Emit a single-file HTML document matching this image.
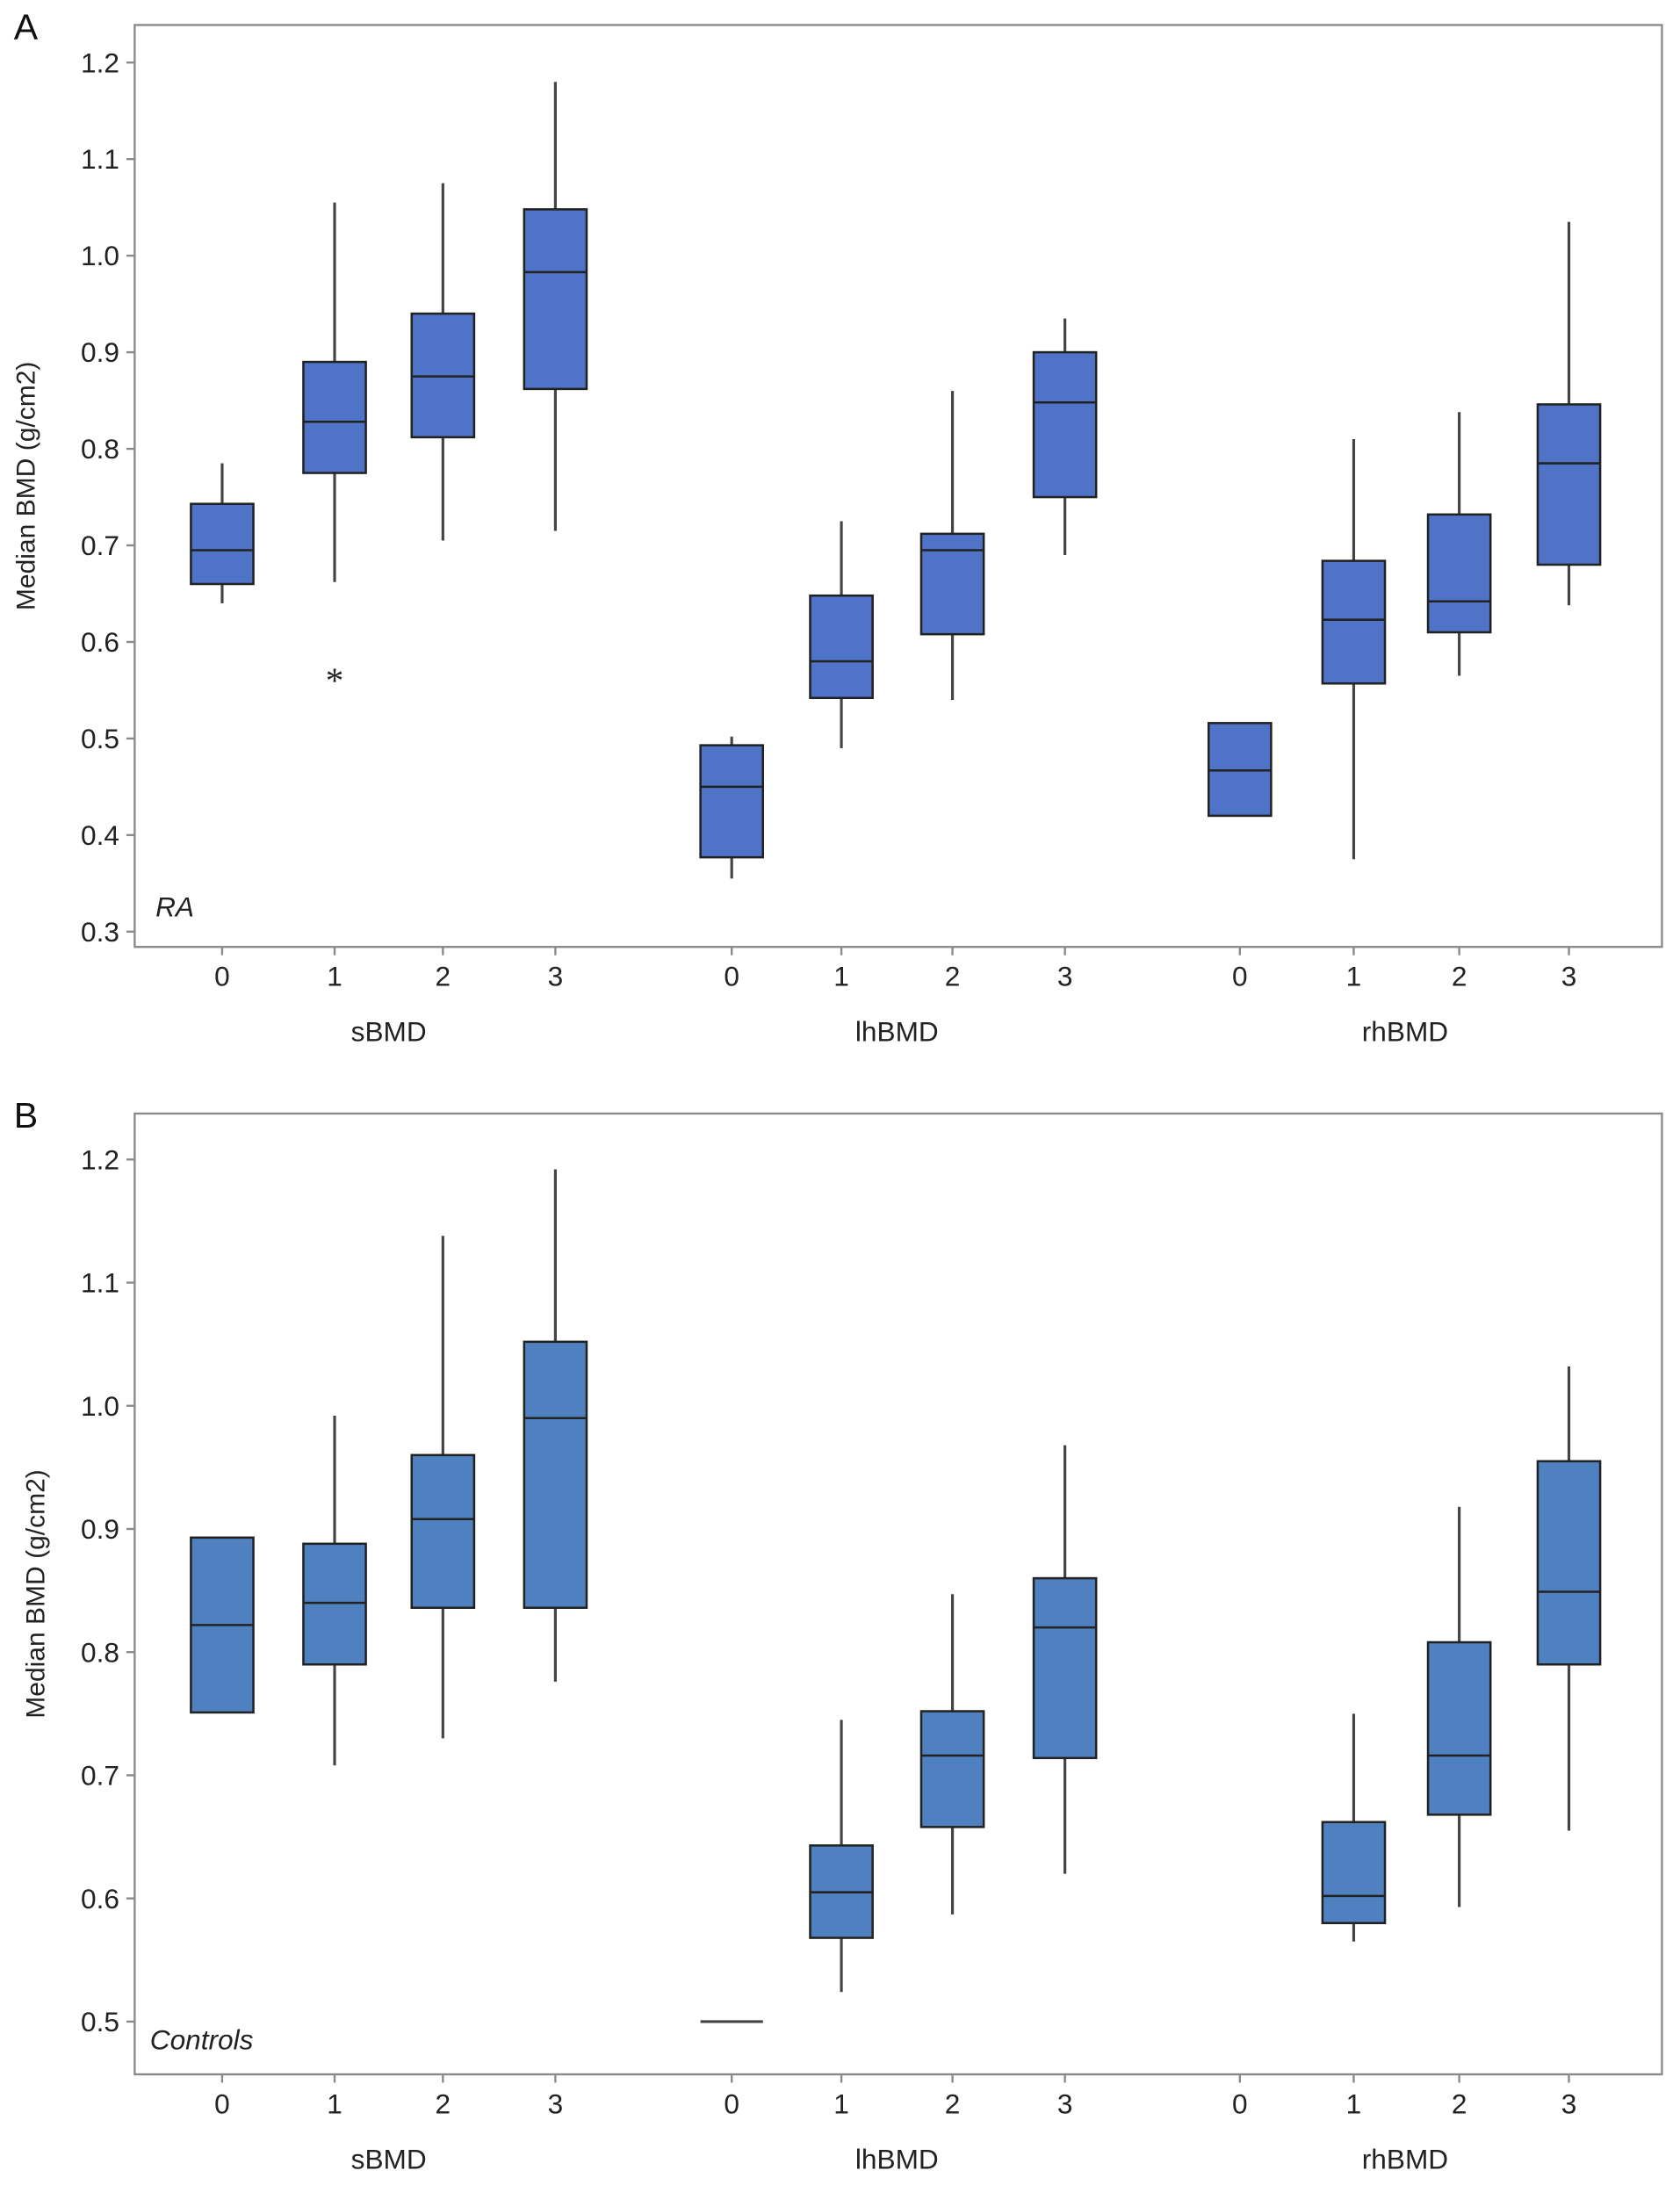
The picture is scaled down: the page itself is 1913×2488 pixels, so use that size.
<!DOCTYPE html>
<html><head><meta charset="utf-8"><style>
html,body{margin:0;padding:0;background:#fff;}
svg{display:block;font-family:"Liberation Sans",sans-serif;}
</style></head><body>
<svg id="chart" width="1913" height="2488" viewBox="0 0 1210 1573.7" xmlns="http://www.w3.org/2000/svg"></svg>
<script>
// Categories
const groups = ["sBMD","lhBMD","rhBMD"];
const levels = ["0","1","2","3"];
// Panel A (RA): [whiskerLow, q1, median, q3, whiskerHigh] per box (null whisker = none)
const aLow = [0.640,0.662,0.705,0.715, 0.355,0.490,0.540,0.690, null,0.375,0.565,0.638];
const aQ1  = [0.660,0.775,0.812,0.862, 0.377,0.542,0.608,0.750, 0.420,0.557,0.610,0.680];
const aMed = [0.695,0.828,0.875,0.983, 0.450,0.580,0.695,0.848, 0.467,0.623,0.642,0.785];
const aQ3  = [0.743,0.890,0.940,1.048, 0.493,0.648,0.712,0.900, 0.516,0.684,0.732,0.846];
const aHigh= [0.785,1.055,1.075,1.180, 0.502,0.725,0.860,0.935, null,0.810,0.838,1.035];
const aOutliers = [[1,0.565]];
// Panel B (Controls)
const bLow = [null,0.708,0.730,0.776, null,0.524,0.587,0.620, null,0.565,0.593,0.655];
const bQ1  = [0.751,0.790,0.836,0.836, 0.500,0.568,0.658,0.714, null,0.580,0.668,0.790];
const bMed = [0.822,0.840,0.908,0.990, 0.500,0.605,0.716,0.820, null,0.602,0.716,0.849];
const bQ3  = [0.893,0.888,0.960,1.052, 0.500,0.643,0.752,0.860, null,0.662,0.808,0.955];
const bHigh= [null,0.992,1.138,1.192, null,0.745,0.847,0.968, null,0.750,0.918,1.032];
const aTicks = [0.3,0.4,0.5,0.6,0.7,0.8,0.9,1.0,1.1,1.2];
const bTicks = [0.5,0.6,0.7,0.8,0.9,1.0,1.1,1.2];

const NS="http://www.w3.org/2000/svg";
const svg=document.getElementById('chart');
const xPos=[160,241,319,400,527,606,686,767,893,975,1051,1130];
const groupX=[280,646,1012];
function mk(tag,attrs,parent){const e=document.createElementNS(NS,tag);for(const k in attrs)e.setAttribute(k,attrs[k]);(parent||svg).appendChild(e);return e;}

function panel(cfg){
  const g=mk('g',{});
  
  
  const y=v=>cfg.y0-(v-cfg.v0)*cfg.k;
  const f=mk('rect',{x:97,y:cfg.top,width:1100,height:cfg.bottom-cfg.top,fill:'none',stroke:'#8a8a8a','stroke-width':1.5},g);
  
  
  const L=mk('text',{x:10,y:cfg.top+10,'font-size':26,fill:'#111'},g);L.textContent=cfg.letter;
  
  
  cfg.ticks.forEach(t=>{
    mk('line',{x1:91,x2:97,y1:y(t),y2:y(t),stroke:'#8a8a8a','stroke-width':1.5},g);
    const tx=mk('text',{x:86,y:y(t)+7,'font-size':20,'text-anchor':'end',fill:'#222'},g);
    tx.textContent=t.toFixed(1);
    
    
  });
  const yt=mk('text',{transform:`translate(${cfg.titleX},${(cfg.top+cfg.bottom)/2}) rotate(-90)`,'font-size':19,'text-anchor':'middle',fill:'#222'},g);
  yt.textContent='Median BMD (g/cm2)';
  
  
  xPos.forEach((x,i)=>{
    mk('line',{x1:x,x2:x,y1:cfg.bottom,y2:cfg.bottom+6,stroke:'#8a8a8a','stroke-width':1.5},g);
    const tx=mk('text',{x:x,y:cfg.bottom+28,'font-size':20,'text-anchor':'middle',fill:'#222'},g);
    tx.textContent=levels[i%4];
    
    
  });
  groups.forEach((gn,i)=>{
    const tx=mk('text',{x:groupX[i],y:cfg.bottom+68,'font-size':20,'text-anchor':'middle',fill:'#222'},g);
    tx.textContent=gn;
    
    
  });
  const tag=mk('text',{x:cfg.tagX,y:cfg.tagY,'font-size':20,'font-style':'italic',fill:'#222'},g);
  tag.textContent=cfg.tag;
  
  
  const hw=22.5;
  xPos.forEach((x,i)=>{
    if(cfg.q1[i]==null)return;
    const bg=mk('g',{},g);
    
    
    if(cfg.hi[i]!=null)mk('line',{x1:x,x2:x,y1:y(cfg.q3[i]),y2:y(cfg.hi[i]),stroke:'#444','stroke-width':2},bg);
    if(cfg.lo[i]!=null)mk('line',{x1:x,x2:x,y1:y(cfg.q1[i]),y2:y(cfg.lo[i]),stroke:'#444','stroke-width':2},bg);
    const h=y(cfg.q1[i])-y(cfg.q3[i]);
    if(h<1){mk('line',{x1:x-hw,x2:x+hw,y1:y(cfg.med[i]),y2:y(cfg.med[i]),stroke:'#444','stroke-width':2},bg);return;}
    mk('rect',{x:x-hw,y:y(cfg.q3[i]),width:2*hw,height:h,fill:cfg.color,stroke:'#222','stroke-width':1.6},bg);
    mk('line',{x1:x-hw,x2:x+hw,y1:y(cfg.med[i]),y2:y(cfg.med[i]),stroke:'#222','stroke-width':1.6},bg);
  });
  (cfg.out||[]).forEach(o=>{
    const t=mk('text',{x:xPos[o[0]],y:y(o[1])+12,'font-size':26,'text-anchor':'middle',fill:'#222','font-family':'Liberation Serif'},g);
    t.textContent='*';
    
    
  });
}
panel({name:'panel-a-ra',letter:'A',tag:'RA',tagX:112,tagY:660,top:18,bottom:682,y0:671,v0:0.3,k:695.5,ticks:aTicks,titleX:25,
  lo:aLow,q1:aQ1,med:aMed,q3:aQ3,hi:aHigh,out:aOutliers,color:'#4f73c6'});
panel({name:'panel-b-controls',letter:'B',tag:'Controls',tagX:108,tagY:1476,top:802,bottom:1494,y0:1456,v0:0.5,k:887,ticks:bTicks,titleX:32,
  lo:bLow,q1:bQ1,med:bMed,q3:bQ3,hi:bHigh,color:'#4f80c0'});
</script>
</body></html>
